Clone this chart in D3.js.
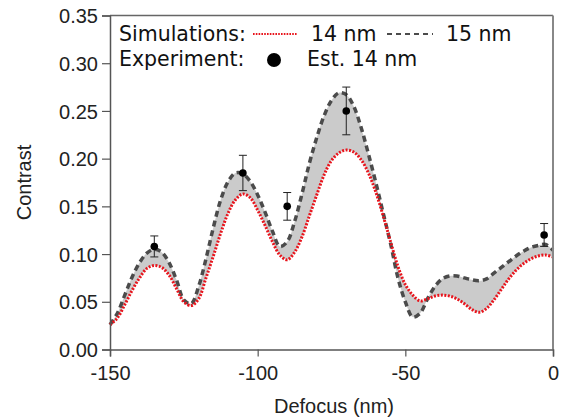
<!DOCTYPE html>
<html>
<head>
<meta charset="utf-8">
<script src="https://cdn.jsdelivr.net/npm/d3@7"></script>
<style>
  html, body { margin: 0; padding: 0; background: #fff; }
  svg { display: block; }
</style>
</head>
<body>
<div id="chart"></div>
<script>
// defocus grid (nm) shared by both simulated curves
const defocus = [
  -150, -147.5, -145, -142.5, -140, -137.5, -135, -132.5, -130, -127.5,
  -125, -122.5, -120, -117.5, -115, -112.5, -110, -107.5, -105, -102.5,
  -100, -97.5, -95, -92.5, -90, -87.5, -85, -82.5, -80, -77.5,
  -75, -72.5, -70, -67.5, -65, -62.5, -60, -57.5, -55, -52.5,
  -50, -47.5, -45, -42.5, -40, -37.5, -35, -32.5, -30, -27.5,
  -25, -22.5, -20, -17.5, -15, -12.5, -10, -7.5, -5, -2.5, 0
];

// simulation, 14 nm (red dotted)
const sim14 = [
  0.026, 0.033, 0.047, 0.062, 0.075, 0.085, 0.088, 0.086, 0.078, 0.064,
  0.050, 0.046, 0.053, 0.075, 0.098, 0.122, 0.143, 0.157, 0.163, 0.159,
  0.146, 0.130, 0.113, 0.099, 0.094, 0.102, 0.118, 0.140, 0.162, 0.183,
  0.198, 0.206, 0.209, 0.207, 0.199, 0.185, 0.165, 0.140, 0.113, 0.087,
  0.068, 0.057, 0.051, 0.053, 0.056, 0.057, 0.056, 0.053, 0.048, 0.042,
  0.039, 0.043, 0.052, 0.063, 0.074, 0.083, 0.090, 0.095, 0.098, 0.099, 0.097
];

// simulation, 15 nm (grey dashed)
const sim15 = [
  0.026, 0.038, 0.057, 0.076, 0.091, 0.101, 0.105, 0.102, 0.091, 0.073,
  0.052, 0.048, 0.066, 0.095, 0.128, 0.157, 0.176, 0.185, 0.184, 0.176,
  0.162, 0.144, 0.124, 0.108, 0.113, 0.134, 0.163, 0.195, 0.222, 0.245,
  0.261, 0.269, 0.267, 0.255, 0.233, 0.205, 0.175, 0.143, 0.111, 0.075,
  0.050, 0.034, 0.038, 0.053, 0.066, 0.074, 0.077, 0.077, 0.075, 0.073,
  0.072, 0.074, 0.080, 0.086, 0.092, 0.098, 0.103, 0.107, 0.109, 0.110, 0.104
];

// experiment, est. 14 nm
const expDefocus = [-135, -105, -90, -70, -3];
const expContrast = [0.108, 0.185, 0.150, 0.250, 0.120];
const expError = [0.011, 0.0185, 0.0145, 0.025, 0.012];

const xTicks = [-150, -100, -50, 0];
const xMinorTicks = d3.range(-150, 1, 10);
const yTicks = [0.00, 0.05, 0.10, 0.15, 0.20, 0.25, 0.30, 0.35];

const W = 566, H = 418;
const margin = { top: 15.5, right: 13, bottom: 68.5, left: 110 };
const FONT = '"Liberation Sans", Arial, sans-serif';
const LEG_FONT = '"DejaVu Sans", sans-serif';
const RED = "#e8141c";
const DASH = "#4b4b4b";
const AXIS = "#555";

const svg = d3.select("#chart").append("svg")
  .attr("width", W)
  .attr("height", H);

const x = d3.scaleLinear().domain([-150, 0]).range([margin.left, W - margin.right]);
const y = d3.scaleLinear().domain([0, 0.35]).range([H - margin.bottom, margin.top]);

const rows = defocus.map((d, i) => ({ d, a: sim14[i], b: sim15[i] }));
const curve = d3.curveCatmullRom.alpha(0.5);

// shaded band between the two simulations
svg.append("path")
  .datum(rows)
  .attr("fill", "#cbcbcb")
  .attr("d", d3.area().curve(curve)
    .x(r => x(r.d))
    .y0(r => y(r.a))
    .y1(r => y(r.b)));

svg.append("path")
  .datum(rows)
  .attr("fill", "none")
  .attr("stroke", DASH)
  .attr("stroke-width", 3.5)
  .attr("stroke-dasharray", "6,4")
  .attr("d", d3.line().curve(curve).x(r => x(r.d)).y(r => y(r.b)));

svg.append("path")
  .datum(rows)
  .attr("fill", "none")
  .attr("stroke", RED)
  .attr("stroke-width", 3)
  .attr("stroke-dasharray", "2,1.5")
  .attr("d", d3.line().curve(curve).x(r => x(r.d)).y(r => y(r.a)));

// frame (top and right)
svg.append("line")
  .attr("x1", margin.left).attr("x2", W - margin.right)
  .attr("y1", margin.top).attr("y2", margin.top)
  .attr("stroke", "#666").attr("stroke-width", 1.5);
svg.append("line")
  .attr("x1", W - margin.right).attr("x2", W - margin.right)
  .attr("y1", margin.top).attr("y2", H - margin.bottom)
  .attr("stroke", "#888").attr("stroke-width", 2);

// axes
const xAxisG = svg.append("g")
  .attr("transform", `translate(0,${H - margin.bottom})`);
xAxisG.call(d3.axisBottom(x).tickValues(xMinorTicks).tickSize(4).tickFormat(""));
xAxisG.call(d3.axisBottom(x).tickValues(xTicks).tickSize(7).tickPadding(9)
  .tickFormat(d => String(d)));

const yAxisG = svg.append("g")
  .attr("transform", `translate(${margin.left},0)`)
  .call(d3.axisLeft(y).tickValues(yTicks).tickSize(8).tickPadding(4)
    .tickFormat(d3.format(".2f")));

[xAxisG, yAxisG].forEach(g => {
  g.selectAll(".domain").attr("stroke", AXIS).attr("stroke-width", 1.5);
  g.selectAll(".tick line").attr("stroke", AXIS).attr("stroke-width", 1.2);
  g.selectAll("text")
    .style("font-family", FONT)
    .attr("font-size", 20)
    .attr("fill", "#222");
});
yAxisG.selectAll("text").attr("dy", "0.36em");

// error bars and points
const expRows = expDefocus.map((d, i) => ({ d, c: expContrast[i], e: expError[i] }));
const eb = svg.append("g").attr("stroke", "#222").attr("stroke-width", 1);
expRows.forEach(p => {
  const px = x(p.d);
  eb.append("line").attr("x1", px).attr("x2", px)
    .attr("y1", y(p.c - p.e)).attr("y2", y(p.c + p.e));
  [p.c - p.e, p.c + p.e].forEach(v => {
    eb.append("line").attr("x1", px - 4).attr("x2", px + 4)
      .attr("y1", y(v)).attr("y2", y(v));
  });
});
svg.append("g").selectAll("circle")
  .data(expRows).join("circle")
  .attr("cx", p => x(p.d))
  .attr("cy", p => y(p.c))
  .attr("r", 3.8)
  .attr("fill", "#000");

// axis titles
svg.append("text")
  .attr("transform", `translate(31,${(margin.top + H - margin.bottom) / 2}) rotate(-90)`)
  .attr("text-anchor", "middle")
  .attr("font-size", 20)
  .style("font-family", FONT)
  .attr("fill", "#222")
  .text("Contrast");

svg.append("text")
  .attr("x", 334)
  .attr("y", 413)
  .attr("text-anchor", "middle")
  .attr("font-size", 20)
  .style("font-family", FONT)
  .attr("fill", "#222")
  .text("Defocus (nm)");

// legend
const leg = svg.append("g")
  .style("font-family", LEG_FONT)
  .attr("font-size", 20.5)
  .attr("fill", "#111");
leg.append("text").attr("x", 119).attr("y", 41).text("Simulations:");
leg.append("text").attr("x", 119).attr("y", 66).text("Experiment:");
leg.append("line")
  .attr("x1", 253).attr("x2", 297).attr("y1", 34).attr("y2", 34)
  .attr("stroke", RED).attr("stroke-width", 2.2).attr("stroke-dasharray", "1.6,1.2");
leg.append("text").attr("x", 311).attr("y", 41).text("14 nm");
leg.append("line")
  .attr("x1", 387).attr("x2", 433).attr("y1", 34).attr("y2", 34)
  .attr("stroke", DASH).attr("stroke-width", 2).attr("stroke-dasharray", "5,4");
leg.append("text").attr("x", 446).attr("y", 41).text("15 nm");
leg.append("circle").attr("cx", 274).attr("cy", 60).attr("r", 7).attr("fill", "#000");
leg.append("text").attr("x", 307).attr("y", 66).text("Est. 14 nm");
</script>
</body>
</html>
